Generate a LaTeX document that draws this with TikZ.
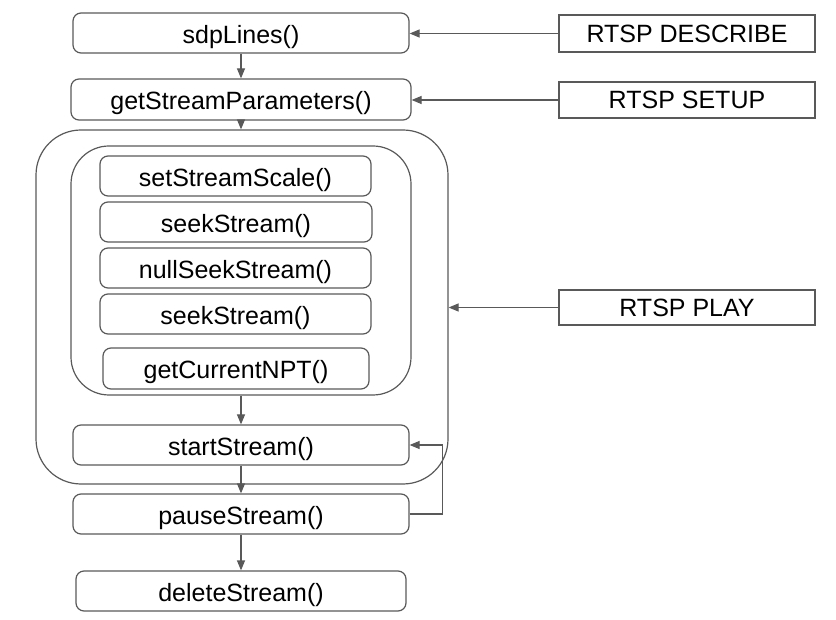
\documentclass[tikz,border=0pt]{standalone}
\usepackage{fontspec}
\setmainfont{Liberation Sans}
\definecolor{lineGray}{RGB}{89, 89, 89}
\usetikzlibrary{shapes, arrows.meta, positioning, calc}

\tikzset{
  fn/.style={draw=lineGray, rounded corners=8pt, line width=1.2pt, minimum width=#1, minimum height=40pt, inner sep=0pt, text height=21pt, text depth=0pt, font=\fontsize{25}{30}\selectfont},
  fn/.default=336pt,
  cmd/.style={draw=lineGray, line width=1.2pt, minimum width=256pt, minimum height=36pt, inner sep=0pt, text height=18pt, text depth=0pt, font=\fontsize{25}{30}\selectfont},
  flow/.style={draw=lineGray, line width=1.2pt, -{Triangle[length=10pt, width=8pt]}}
}

\begin{document}
\begin{tikzpicture}[x=1pt, y=-1pt]
  \useasboundingbox (0,0) rectangle (836,620);

  % play group frames
  \node[draw=lineGray, line width=1.2pt, rounded corners=45pt, minimum width=412pt, minimum height=354pt] (playOuter) at (242,307) {};
  \node[draw=lineGray, line width=1.2pt, rounded corners=38pt, minimum width=340pt, minimum height=249pt] (playInner) at (241,270.5) {};

  % server side calls
  \node[fn] (sdp) at (241,33) {sdpLines()};
  \node[fn=340pt, minimum height=41pt] (params) at (241,99.5) {getStreamParameters()};
  \node[fn=271pt] (scale) at (235.5,176) {setStreamScale()};
  \node[fn=272pt] (seekA) at (236,222) {seekStream()};
  \node[fn=271pt] (nullSeek) at (235.5,268) {nullSeekStream()};
  \node[fn=271pt] (seekB) at (235.5,314) {seekStream()};
  \node[fn=266pt, minimum height=41pt] (npt) at (236,368.5) {getCurrentNPT()};
  \node[fn] (start) at (241,445) {startStream()};
  \node[fn] (pause) at (241,514) {pauseStream()};
  \node[fn=330pt] (delete) at (241,591) {deleteStream()};

  % rtsp requests
  \node[cmd, minimum height=37pt] (describe) at (687,33.5) {RTSP DESCRIBE};
  \node[cmd] (setup) at (687,100) {RTSP SETUP};
  \node[cmd, minimum height=35pt] (play) at (687,307.5) {RTSP PLAY};

  \draw[flow] (describe.west) -- (sdp.east |- describe.west);
  \draw[flow] (setup.west) -- (params.east |- setup.west);
  \draw[flow] (play.west) -- (playOuter.east |- play.west);

  \draw[flow] (sdp.south) -- (params.north);
  \draw[flow] (params.south) -- (params.south |- playOuter.north);
  \draw[flow] (playInner.south) -- (playInner.south |- start.north);
  \draw[flow] (start.south) -- (pause.north);
  \draw[flow] (pause.south) -- (delete.north);
  \draw[flow] (pause.east) -- ++(33,0) |- (start.east);
\end{tikzpicture}
\end{document}
